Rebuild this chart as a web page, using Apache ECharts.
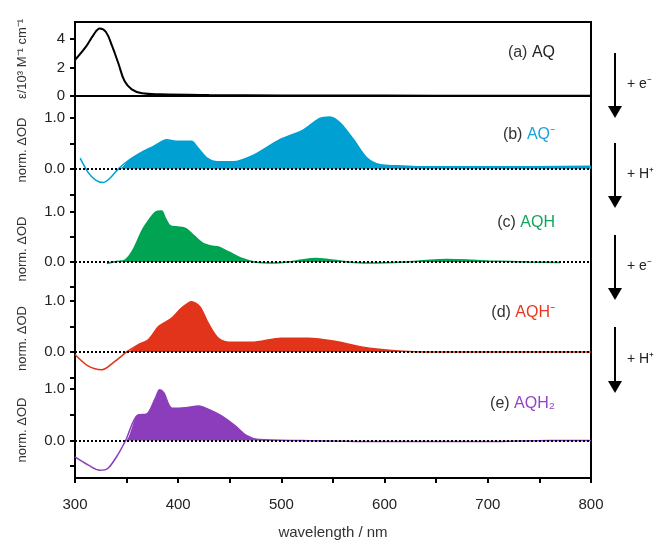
<!DOCTYPE html>
<html>
<head>
<meta charset="utf-8">
<script src="https://cdn.jsdelivr.net/npm/echarts@6/dist/echarts.min.js"></script>
<style>
  html, body { margin: 0; padding: 0; background: #fff; }
  #main { width: 662px; height: 541px; }
</style>
</head>
<body>
<div id="main"></div>
<script>
// (a) AQ, extinction coefficient / 10^3 M-1 cm-1
var wlA = [300, 311, 318, 324, 330, 336, 342, 348, 355, 365, 382, 430, 500, 600, 700, 800];
var epsA = [2.53, 3.5, 4.3, 4.75, 4.5, 3.5, 2.3, 1.05, 0.47, 0.19, 0.12, 0.07, 0.04, 0.03, 0.02, 0.02];

// (b) AQ-
var wlB = [305, 313, 320, 327, 334, 342, 353, 366, 376, 389, 398, 413, 418, 428, 437, 453, 473, 498, 521, 537, 547, 557, 570, 583, 596, 612, 634, 700, 800];
var odB = [0.21, -0.08, -0.22, -0.27, -0.18, 0.0, 0.18, 0.34, 0.44, 0.57, 0.54, 0.54, 0.44, 0.21, 0.14, 0.14, 0.27, 0.57, 0.76, 0.99, 1.02, 0.9, 0.57, 0.21, 0.08, 0.06, 0.04, 0.04, 0.05];

// (c) AQH
var wlC = [331, 340, 348, 356, 365, 372, 378, 384, 387, 392, 400, 407, 413, 424, 432, 439, 449, 462, 474, 494, 506, 520, 533, 545, 565, 584, 620, 640, 660, 680, 700, 740, 770];
var odC = [-0.03, 0.01, 0.03, 0.23, 0.63, 0.85, 1.0, 1.02, 0.9, 0.73, 0.7, 0.67, 0.57, 0.37, 0.32, 0.3, 0.2, 0.07, 0.0, -0.02, 0.0, 0.04, 0.07, 0.05, 0.0, -0.02, 0.0, 0.03, 0.05, 0.04, 0.02, 0.0, -0.01];

// (d) AQH-
var wlD = [300, 313, 326, 339, 350, 361, 371, 381, 394, 403, 413, 421, 429, 439, 452, 471, 500, 526, 552, 575, 597, 623, 660, 700, 800];
var odD = [-0.05, -0.28, -0.35, -0.18, 0.0, 0.14, 0.24, 0.5, 0.67, 0.86, 0.99, 0.89, 0.57, 0.27, 0.19, 0.19, 0.27, 0.27, 0.21, 0.11, 0.05, 0.01, 0.0, 0.0, 0.0];

// (e) AQH2
var wlE = [300, 313, 324, 332, 342, 349, 361, 369, 378, 382, 386, 394, 407, 420, 429, 442, 455, 466, 478, 520, 600, 650, 700, 760, 800];
var odE = [-0.32, -0.48, -0.58, -0.54, -0.26, 0.0, 0.5, 0.51, 0.83, 0.99, 0.93, 0.63, 0.64, 0.67, 0.61, 0.48, 0.29, 0.1, 0.02, 0.0, -0.02, -0.02, -0.02, 0.0, 0.0];

// wavelength where the shaded (positive) band begins in panels b-e
var fillFrom = [342, 331, 350, 349];

var xTicks = [300, 400, 500, 600, 700, 800];
var panelNames = ['(a) ', '(b) ', '(c) ', '(d) ', '(e) '];
var species = ['AQ', 'AQ⁻', 'AQH', 'AQH⁻', 'AQH₂'];
var steps = ['+ e⁻', '+ H⁺', '+ e⁻', '+ H⁺'];

var FONT = '"Liberation Sans", Arial, sans-serif';
var colors = ['#000000', '#00a0d2', '#00a352', '#e2341a', '#8b3dbb'];
var labelColors = ['#222222', '#1aa3d8', '#13a45c', '#e8371e', '#9444c8'];

// panel layout: [top, height, ymin, ymax]
var panels = [
  [22, 74, 0, 5.2],
  [96, 108, -0.69, 1.43],
  [204, 90, -0.64, 1.16],
  [294, 89, -0.61, 1.14],
  [383, 95, -0.71, 1.12]
];

function pairs(xs, ys) {
  return xs.map(function (x, i) { return [x, ys[i]]; });
}
function positive(xs, ys, from) {
  return xs.map(function (x, i) { return [x, x < from ? 0 : Math.max(0, ys[i])]; });
}

var grids = [], xAxes = [], yAxes = [], series = [];
panels.forEach(function (p, i) {
  grids.push({
    left: 75, width: 516, top: p[0], height: p[1],
    show: i === 0, borderColor: '#000', borderWidth: 2
  });
  var last = i === panels.length - 1;
  xAxes.push({
    type: 'value', gridIndex: i, min: 300, max: 800, interval: 50,
    show: last,
    axisLine: { show: false, onZero: false },
    axisTick: { show: true, inside: false, length: 6, lineStyle: { color: '#000', width: 2 } },
    axisLabel: {
      show: true, margin: 20, color: '#222', fontSize: 15, fontFamily: FONT,
      formatter: function (v) { return xTicks.indexOf(v) >= 0 ? String(v) : ''; }
    },
    splitLine: { show: false },
    name: last ? 'wavelength / nm' : '',
    nameLocation: 'middle', nameGap: 48,
    nameTextStyle: { color: '#333', fontSize: 15, fontFamily: FONT }
  });
  yAxes.push({
    type: 'value', gridIndex: i, min: p[2], max: p[3],
    axisLine: { show: false, onZero: false },
    axisTick: {
      show: true, inside: false, length: 5, lineStyle: { color: '#000', width: 2 },
      customValues: i === 0 ? [0, 2, 4] : [-0.5, 0, 0.5, 1]
    },
    axisLabel: {
      color: '#222', fontSize: 15, fontFamily: FONT, margin: 10,
      customValues: i === 0 ? [0, 2, 4] : [0, 1],
      formatter: function (v) { return i === 0 ? String(v) : v.toFixed(1); }
    },
    splitLine: { show: false },
    name: i === 0 ? 'ε/10³ M⁻¹ cm⁻¹' : 'norm. ΔOD',
    nameLocation: 'middle', nameGap: 46, nameRotate: 90,
    nameTextStyle: { color: '#333', fontSize: 13, fontFamily: FONT }
  });
});

// frame around panels b-e
grids.push({ left: 75, width: 516, top: 96, height: 382, show: true, borderColor: '#000', borderWidth: 2 });
xAxes.push({ type: 'value', gridIndex: 5, min: 300, max: 800, show: false });
yAxes.push({ type: 'value', gridIndex: 5, min: 0, max: 1, show: false });

var zeroLine = {
  silent: true, symbol: ['none', 'none'],
  label: { show: false },
  lineStyle: { color: '#000', type: [2, 2], width: 2 },
  data: [{ yAxis: 0 }]
};

series.push({
  type: 'line', xAxisIndex: 0, yAxisIndex: 0, data: pairs(wlA, epsA),
  smooth: 0.4, showSymbol: false, lineStyle: { color: colors[0], width: 2 }
});

[[wlB, odB], [wlC, odC], [wlD, odD], [wlE, odE]].forEach(function (d, k) {
  var i = k + 1;
  series.push({
    type: 'line', xAxisIndex: i, yAxisIndex: i, data: positive(d[0], d[1], fillFrom[k]),
    smooth: 0.3, showSymbol: false, z: 2,
    lineStyle: { width: 0 },
    areaStyle: { color: colors[i], opacity: 1 }
  });
  series.push({
    type: 'line', xAxisIndex: i, yAxisIndex: i, data: pairs(d[0], d[1]),
    smooth: 0.3, showSymbol: false, z: 3,
    lineStyle: { color: colors[i], width: 1.5 },
    markLine: zeroLine
  });
});

// panel labels and reaction arrows
var labelY = [55, 137, 225, 315, 406];
var graphics = labelY.map(function (y, i) {
  return {
    type: 'text', right: 107, top: y - 10,
    style: {
      text: '{p|' + panelNames[i] + '}{s|' + species[i] + '}',
      font: '16px ' + FONT,
      rich: {
        p: { fill: '#333', fontSize: 16, fontFamily: FONT },
        s: { fill: labelColors[i], fontSize: 16, fontFamily: FONT }
      }
    }
  };
});
var arrows = [[53, 118], [143, 208], [235, 300], [327, 393]];
arrows.forEach(function (a, i) {
  graphics.push({
    type: 'line', shape: { x1: 615, y1: a[0], x2: 615, y2: a[1] - 10 },
    style: { stroke: '#000', lineWidth: 2 }
  });
  graphics.push({
    type: 'polygon', shape: { points: [[608, a[1] - 12], [622, a[1] - 12], [615, a[1]]] },
    style: { fill: '#000' }
  });
  graphics.push({
    type: 'text', left: 627, top: (a[0] + a[1]) / 2 - 8,
    style: { text: steps[i], font: '14px ' + FONT, fill: '#222' }
  });
});

var myChart = echarts.init(document.getElementById('main'));
myChart.setOption({
  animation: false,
  backgroundColor: '#fff',
  grid: grids,
  xAxis: xAxes,
  yAxis: yAxes,
  series: series,
  graphic: graphics
});
</script>
</body>
</html>
